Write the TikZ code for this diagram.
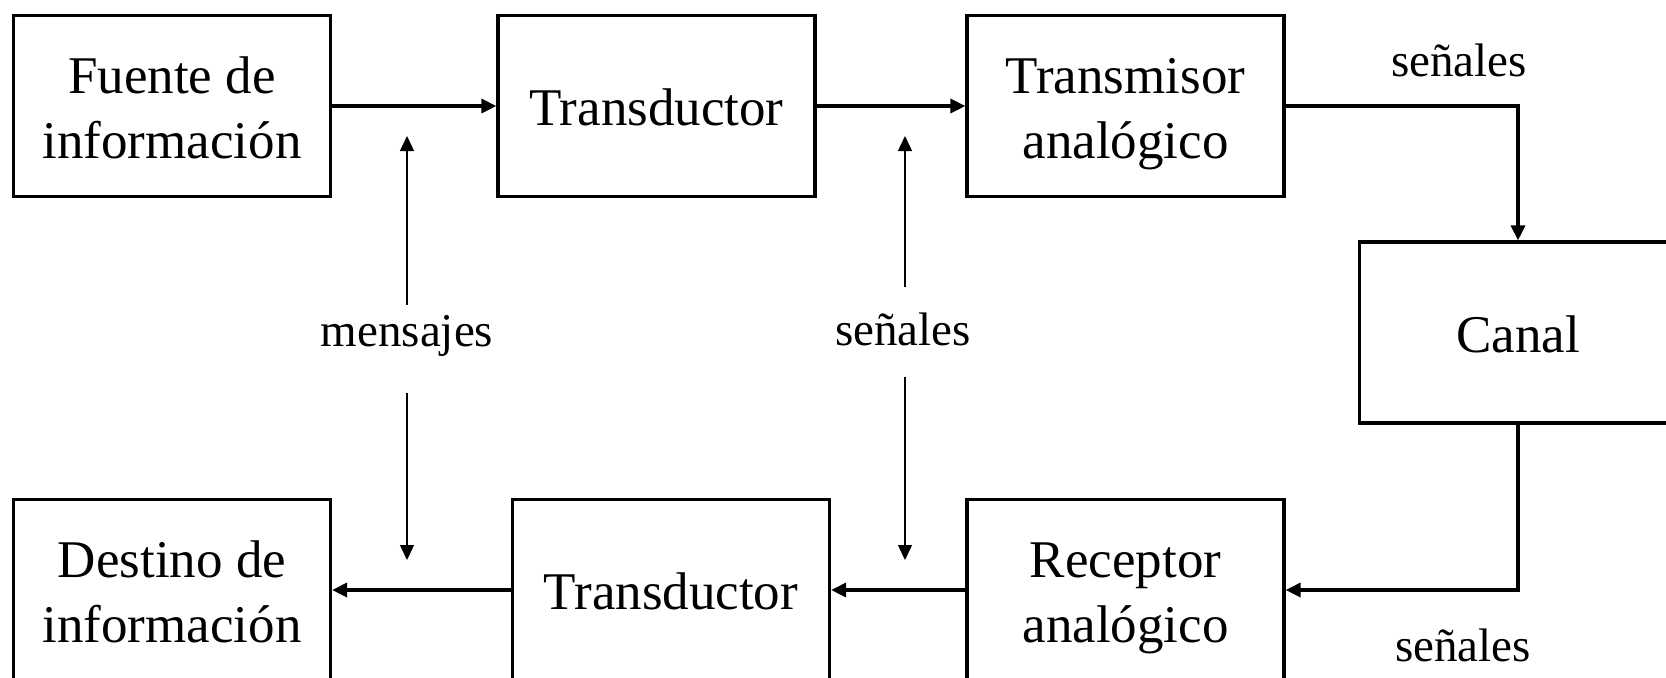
\documentclass[tikz,border=0pt]{standalone}
\usepackage{fontspec}
\setmainfont{Liberation Serif}
\usetikzlibrary{arrows.meta,positioning}
% strut for the text lines inside the blocks
\newcommand{\boxstrut}{\rule[-6.5pt]{0pt}{32.5pt}}

\begin{document}
\begin{tikzpicture}[
    x=0.5pt, y=-0.5pt,
    >={Triangle[length=7.5pt,width=7pt]},
    block/.style={draw, line width=1.6pt, minimum width=158.5pt, minimum height=90.5pt,
        align=center, inner sep=0pt, font=\fontsize{26.5pt}{32.5pt}\selectfont},
    lbl/.style={inner sep=0pt, font=\fontsize{23.5pt}{28pt}\selectfont},
    mainarrow/.style={->, line width=1.6pt},
    thinarrow/.style={->, line width=0.7pt}
]
    % === PAGE FRAME ===
    \useasboundingbox (0,0) rectangle (1666,677);

    % === BLOCKS ===
    % Upper row: source side
    \node[block] (fuente) at (172,106) {\boxstrut Fuente de\\\boxstrut información};
    \node[block] (transtx) at (656.5,106) {\boxstrut Transductor};
    \node[block] (transmisor) at (1125.5,106) {\boxstrut Transmisor\\\boxstrut analógico};

    % Channel
    \node[block] (canal) at (1518,332.5) {\boxstrut Canal};

    % Lower row: destination side
    \node[block] (destino) at (172,590) {\boxstrut Destino de\\\boxstrut información};
    \node[block] (transrx) at (671,590) {\boxstrut Transductor};
    \node[block] (receptor) at (1125.5,590) {\boxstrut Receptor\\\boxstrut analógico};

    % === LABELS ===
    \node[lbl] (msg) at (407,336) {mensajes};
    \node[lbl] (senmid) at (903,329) {señales};
    \node[lbl] (sentop) at (1459,60) {señales};
    \node[lbl] (senbot) at (1463,645) {señales};

    % Free ends of the label arrows
    \coordinate (msgup) at (407,136);
    \coordinate (msgdown) at (407,560);
    \coordinate (senup) at (905,136);
    \coordinate (sendown) at (905,560);

    % === SIGNAL PATH ===
    \draw[mainarrow] (fuente) -- (transtx);
    \draw[mainarrow] (transtx) -- (transmisor);
    \draw[mainarrow] (transmisor.east) -| (canal.north);
    \draw[mainarrow] (canal.south) |- (receptor.east);
    \draw[mainarrow] (receptor) -- (transrx);
    \draw[mainarrow] (transrx) -- (destino);

    % Label arrows
    \draw[thinarrow, shorten <=5pt] (msg) -- (msgup);
    \draw[thinarrow, shorten <=18pt] (msg) -- (msgdown);
    \draw[thinarrow, shorten <=12.5pt] (senmid.north -| senup) -- (senup);
    \draw[thinarrow, shorten <=15.5pt] (senmid.south -| sendown) -- (sendown);
\end{tikzpicture}
\end{document}
